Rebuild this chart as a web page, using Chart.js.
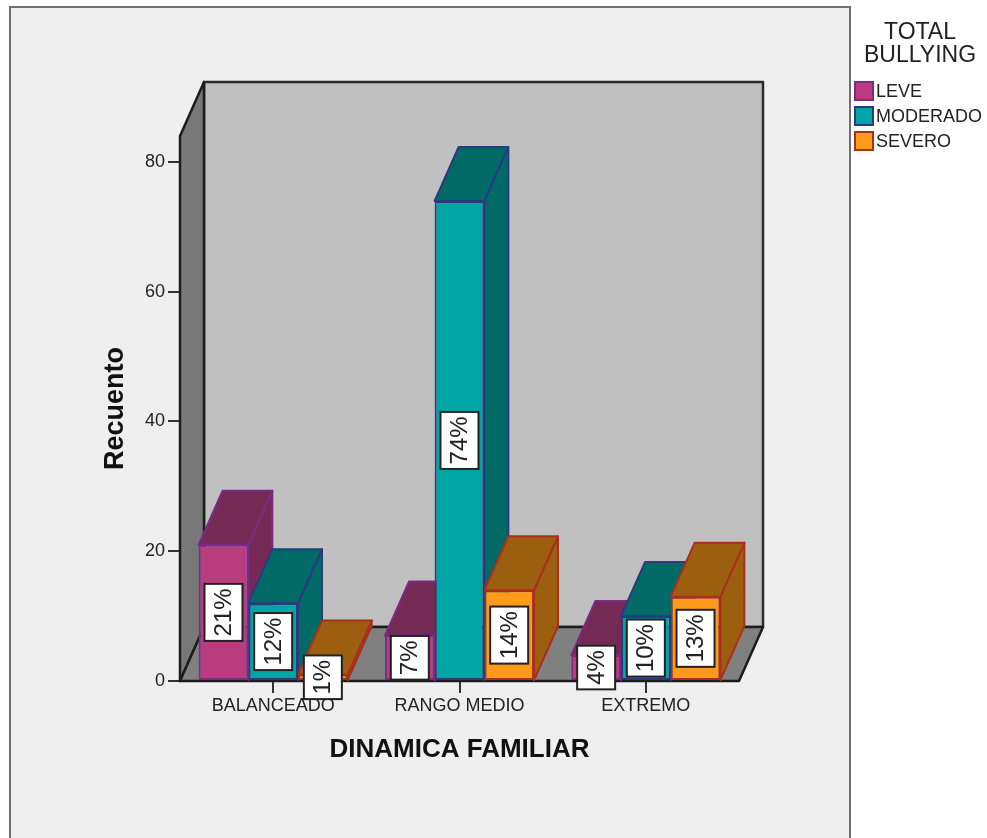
<!DOCTYPE html>
<html>
<head>
<meta charset="utf-8">
<title>Dinamica familiar</title>
<script src="https://cdn.jsdelivr.net/npm/chart.js@4/dist/chart.umd.min.js"></script>
<style>
  body { margin: 0; background: #fff; }
  canvas { display: block; }
</style>
</head>
<body>
<canvas id="chart" width="987" height="838"></canvas>
<script>
// Data
const categories = ["BALANCEADO", "RANGO MEDIO", "EXTREMO"];
const seriesNames = ["LEVE", "MODERADO", "SEVERO"];
const leveValues = [21, 7, 4];
const moderadoValues = [12, 74, 10];
const severoValues = [1, 14, 13];
const leveLabels = ["21%", "7%", "4%"];
const moderadoLabels = ["12%", "74%", "10%"];
const severoLabels = ["1%", "14%", "13%"];
const yTicks = [0, 20, 40, 60, 80];
const legendTitle = ["TOTAL", "BULLYING"];

// Colours per series
const frontColors = ["#b93b80", "#00a6a6", "#ff9a1a"];
const darkColors = ["#752a55", "#006a66", "#9c5f10"];
const edgeColors = ["#7b2a86", "#2b3a80", "#a8301c"];
const valueLabels = [leveLabels, moderadoLabels, severoLabels];

const FONT = '"Liberation Sans", Arial, sans-serif';
const DEPTH_X = 24; // 3D depth of walls and bars
const DEPTH_Y = 54;

function polygon(ctx, pts, fill, stroke, width) {
  ctx.beginPath();
  pts.forEach((p, i) => (i ? ctx.lineTo(p[0], p[1]) : ctx.moveTo(p[0], p[1])));
  ctx.closePath();
  ctx.fillStyle = fill;
  ctx.fill();
  ctx.strokeStyle = stroke;
  ctx.lineWidth = width;
  ctx.lineJoin = "round";
  ctx.stroke();
}

// Frame, 3D walls, bar tops and sides, value boxes and legend
const threeD = {
  id: "threeD",
  beforeDraw(chart) {
    const ctx = chart.ctx;
    ctx.save();
    ctx.fillStyle = "#efefef";
    ctx.fillRect(10, 7, 840, 840);
    ctx.strokeStyle = "#707070";
    ctx.lineWidth = 2;
    ctx.strokeRect(10, 7, 840, 840);
    ctx.restore();
  },
  beforeDatasetsDraw(chart) {
    const ctx = chart.ctx;
    const a = chart.chartArea;
    const dx = DEPTH_X, dy = DEPTH_Y;
    ctx.save();
    polygon(ctx, [[a.left + dx, a.top - dy], [a.right + dx, a.top - dy], [a.right + dx, a.bottom - dy], [a.left + dx, a.bottom - dy]], "#c0c0c0", "#2a2a2a", 2.5);
    polygon(ctx, [[a.left, a.top], [a.left + dx, a.top - dy], [a.left + dx, a.bottom - dy], [a.left, a.bottom]], "#787878", "#1c1c1c", 2.5);
    polygon(ctx, [[a.left, a.bottom], [a.right, a.bottom], [a.right + dx, a.bottom - dy], [a.left + dx, a.bottom - dy]], "#808080", "#1c1c1c", 2.5);

    // tops and sides go first, the library paints the front faces over them
    chart.data.datasets.forEach((ds, i) => {
      chart.getDatasetMeta(i).data.forEach((bar) => {
        const l = bar.x - bar.width / 2, r = bar.x + bar.width / 2;
        const top = bar.y, base = bar.base;
        polygon(ctx, [[r, top], [r + dx, top - dy], [r + dx, base - dy], [r, base]], darkColors[i], edgeColors[i], 2);
        polygon(ctx, [[l, top], [l + dx, top - dy], [r + dx, top - dy], [r, top]], darkColors[i], edgeColors[i], 2);
      });
    });
    ctx.restore();
  },
  afterDatasetsDraw(chart) {
    const ctx = chart.ctx;
    ctx.save();
    ctx.font = "24px " + FONT;
    ctx.textAlign = "center";
    ctx.textBaseline = "middle";
    chart.data.datasets.forEach((ds, i) => {
      chart.getDatasetMeta(i).data.forEach((bar, j) => {
        const text = valueLabels[i][j];
        const h = ctx.measureText(text).width + 9;
        const mid = (bar.y + bar.base) / 2;
        ctx.fillStyle = "#fff";
        ctx.fillRect(bar.x - 19, mid - h / 2, 38, h);
        ctx.strokeStyle = "#222";
        ctx.lineWidth = 2;
        ctx.strokeRect(bar.x - 19, mid - h / 2, 38, h);
        ctx.save();
        ctx.translate(bar.x, mid);
        ctx.rotate(-Math.PI / 2);
        ctx.fillStyle = "#222";
        ctx.fillText(text, 0, 1);
        ctx.restore();
      });
    });
    ctx.restore();
  },
  afterDraw(chart) {
    const ctx = chart.ctx;
    ctx.save();
    ctx.fillStyle = "#222";
    ctx.textBaseline = "middle";
    ctx.textAlign = "center";
    ctx.font = "23px " + FONT;
    legendTitle.forEach((t, i) => ctx.fillText(t, 920, 33 + i * 23));
    ctx.textAlign = "left";
    ctx.font = "18px " + FONT;
    seriesNames.forEach((name, i) => {
      const y = 91 + i * 25;
      ctx.fillStyle = frontColors[i];
      ctx.fillRect(855, y - 9, 18, 18);
      ctx.strokeStyle = edgeColors[i];
      ctx.lineWidth = 2;
      ctx.strokeRect(855, y - 9, 18, 18);
      ctx.fillStyle = "#222";
      ctx.fillText(name, 876, y + 1);
    });
    ctx.restore();
  },
};

new Chart(document.getElementById("chart"), {
  type: "bar",
  data: {
    labels: categories,
    datasets: [leveValues, moderadoValues, severoValues].map((values, i) => ({
      label: seriesNames[i],
      data: values,
      backgroundColor: frontColors[i],
      borderColor: edgeColors[i],
      borderWidth: 2,
      borderSkipped: false,
    })),
  },
  options: {
    responsive: false,
    animation: false,
    devicePixelRatio: 1,
    layout: { padding: { left: 0, right: 248, top: 136, bottom: 0 } },
    datasets: { bar: { categoryPercentage: 0.8, barPercentage: 1 } },
    plugins: { legend: { display: false }, tooltip: { enabled: false } },
    scales: {
      x: {
        border: { display: false },
        grid: { offset: false, drawOnChartArea: false, tickLength: 12, tickColor: "#333", lineWidth: 2 },
        ticks: { color: "#222", font: { family: FONT, size: 18 }, padding: 2, maxRotation: 0, autoSkip: false },
        title: { display: true, text: "DINAMICA FAMILIAR", color: "#111", font: { family: FONT, size: 26, weight: "bold" }, padding: { top: 0, bottom: 73 } },
        afterFit(scale) {
          scale.height = 157;
        },
      },
      y: {
        min: 0,
        max: 84,
        border: { display: false },
        grid: { drawOnChartArea: false, tickLength: 12, tickColor: "#333", lineWidth: 2 },
        ticks: { color: "#222", font: { family: FONT, size: 18 }, padding: 3 },
        title: { display: true, text: "Recuento", color: "#111", font: { family: FONT, size: 27, weight: "bold" }, padding: { top: 99, bottom: 0 } },
        afterBuildTicks(scale) {
          scale.ticks = yTicks.map((v) => ({ value: v }));
        },
        afterFit(scale) {
          scale.width = 180;
        },
      },
    },
  },
  plugins: [threeD],
});
</script>
</body>
</html>
